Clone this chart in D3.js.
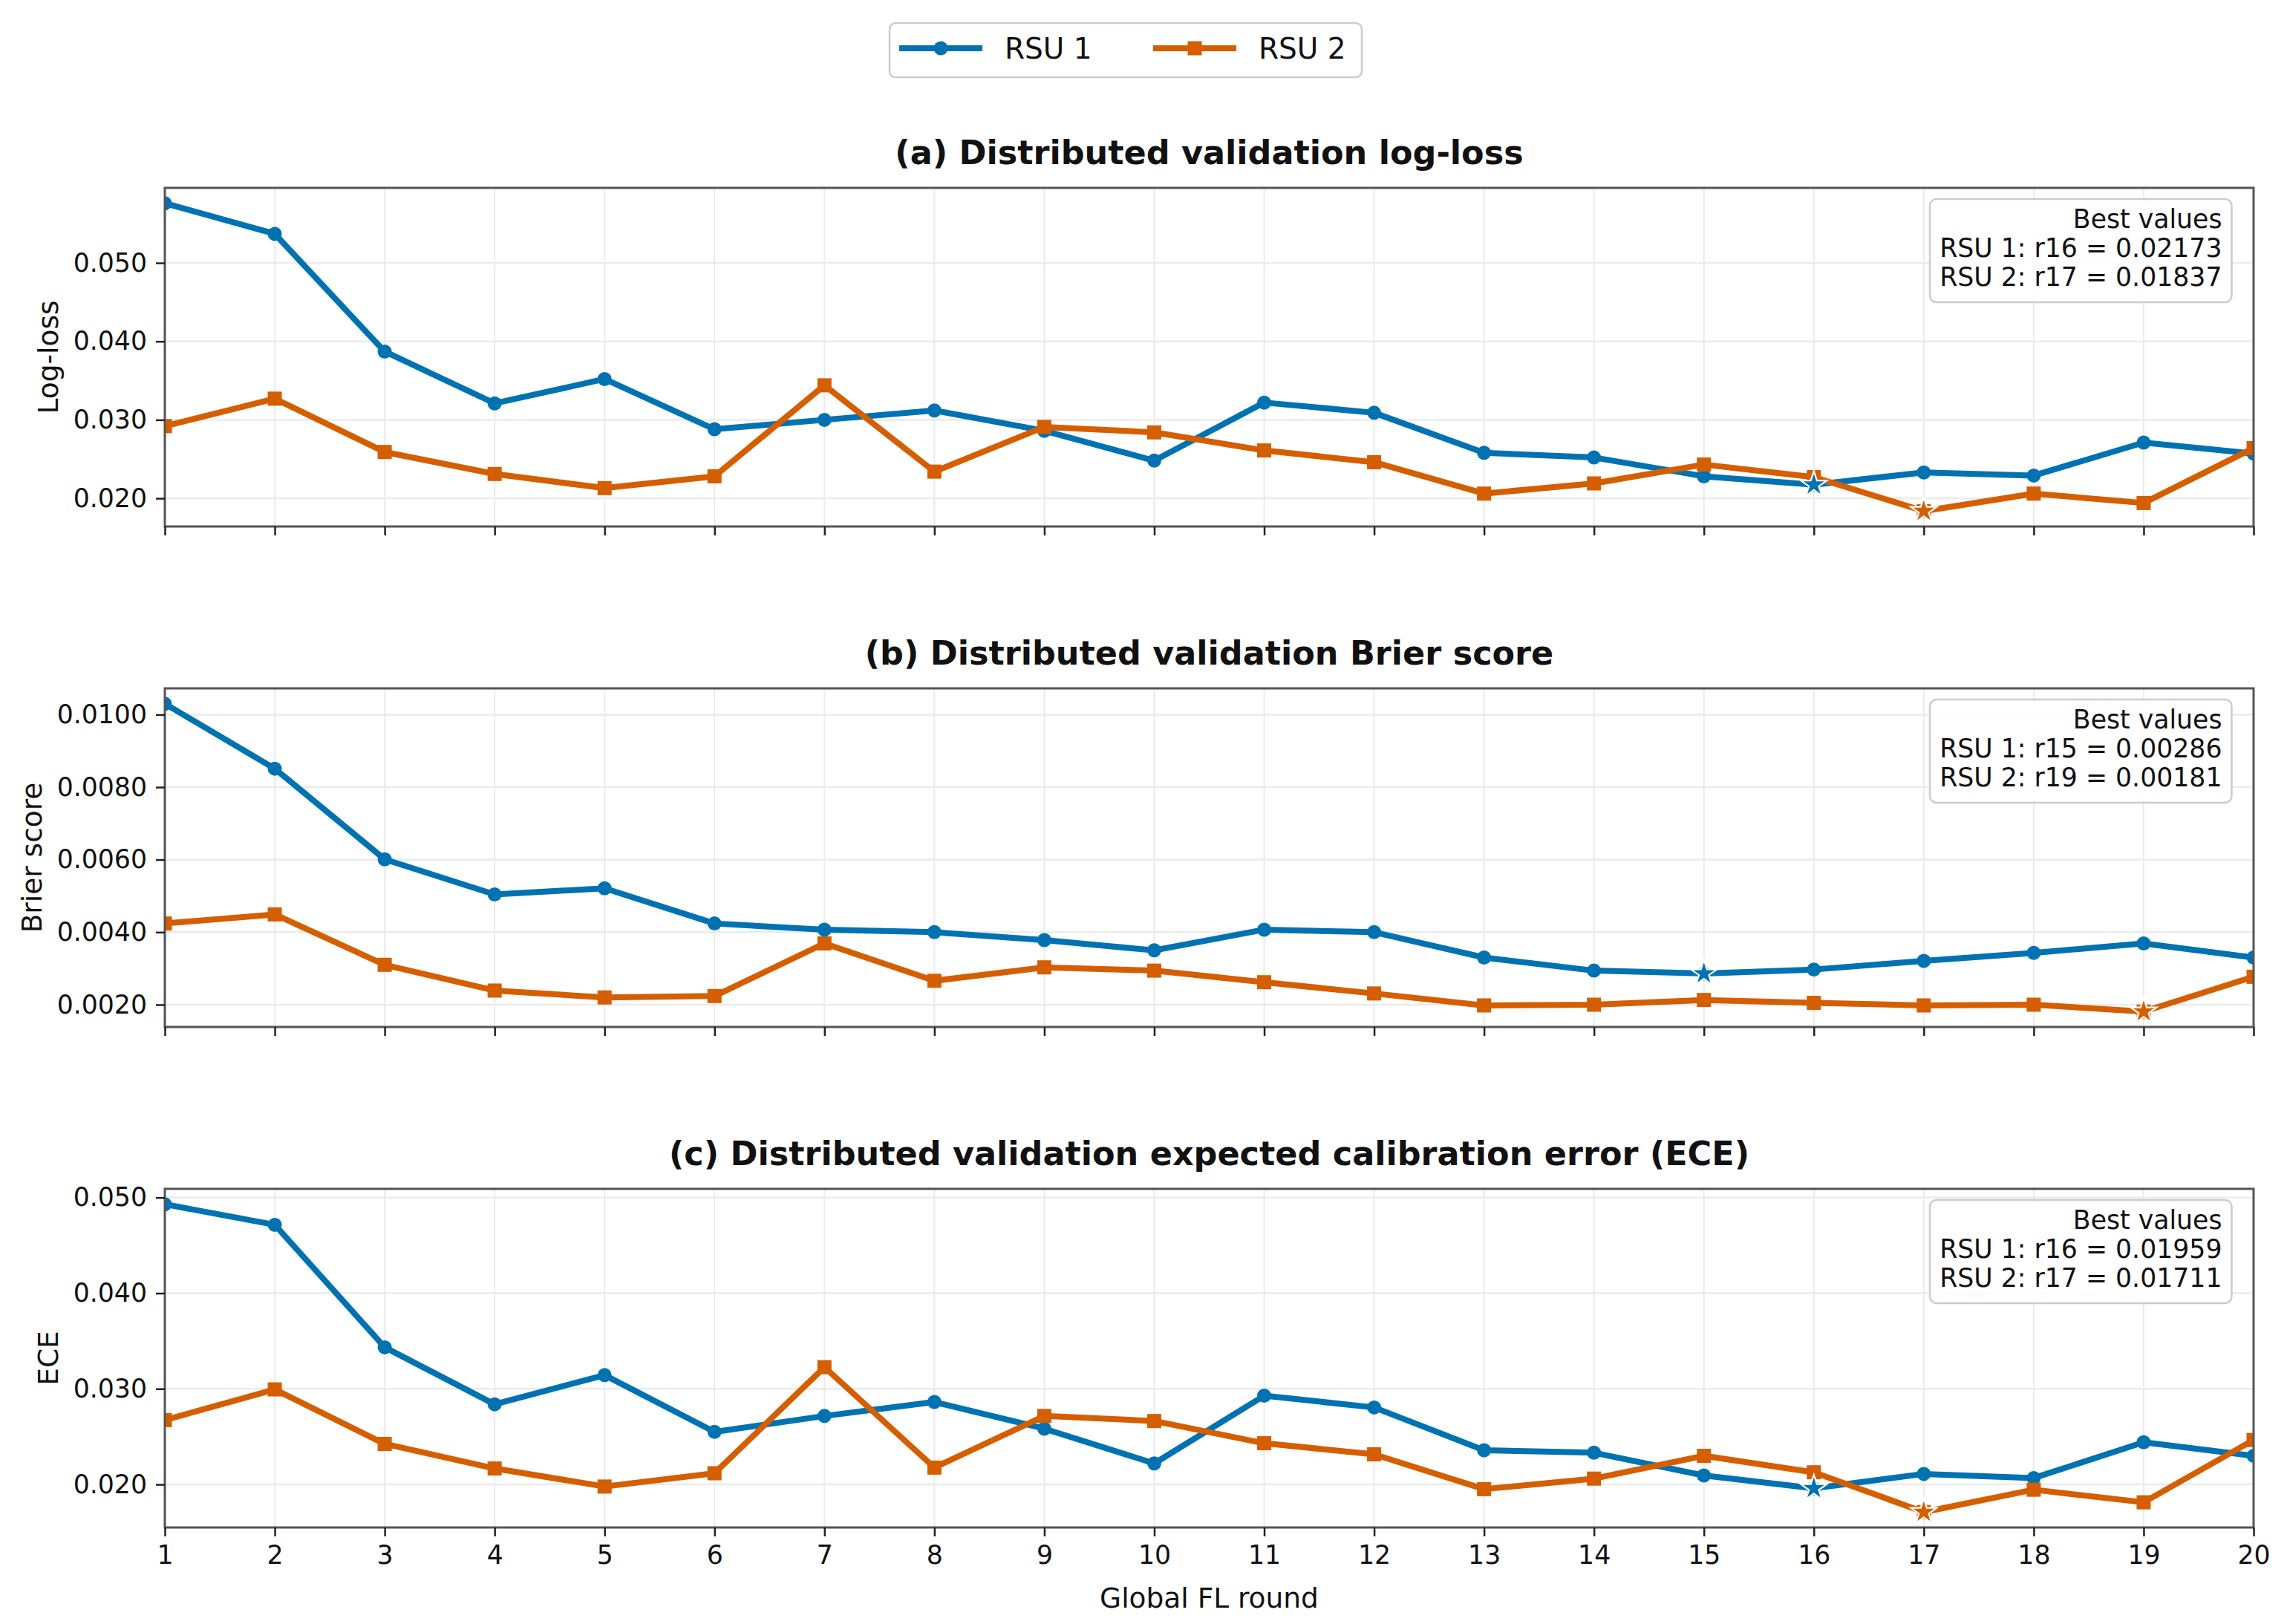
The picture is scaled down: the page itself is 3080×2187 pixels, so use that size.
<!DOCTYPE html>
<html>
<head>
<meta charset="utf-8">
<script src="https://cdn.jsdelivr.net/npm/d3@7"></script>
<style>
    html, body { margin: 0; padding: 0; background: #fff; }
    svg { display: block; font-family: "DejaVu Sans", sans-serif; }
</style>
</head>
<body>
<svg id="chart"></svg>
<script>
// Distributed validation metrics per global FL round, two RSUs
const rounds = [1, 2, 3, 4, 5, 6, 7, 8, 9, 10, 11, 12, 13, 14, 15, 16, 17, 18, 19, 20];
const seriesNames = ['RSU 1', 'RSU 2'];

const logLossRsu1 = [0.0576, 0.0537, 0.0387, 0.0321, 0.0352, 0.0288, 0.0300, 0.0312, 0.0286, 0.0248,
                     0.0322, 0.0309, 0.0258, 0.0252, 0.0228, 0.02173, 0.0233, 0.0229, 0.0271, 0.0257];
const logLossRsu2 = [0.0292, 0.0327, 0.0259, 0.0231, 0.0213, 0.0228, 0.0344, 0.0234, 0.0291, 0.0284,
                     0.0261, 0.0246, 0.0206, 0.0219, 0.0243, 0.0227, 0.01837, 0.0206, 0.0194, 0.0264];

const brierRsu1 = [0.0103, 0.00851, 0.00601, 0.00504, 0.00521, 0.00424, 0.00407, 0.00400, 0.00378, 0.00350,
                   0.00407, 0.00400, 0.00330, 0.00294, 0.00286, 0.00297, 0.00321, 0.00343, 0.00369, 0.00330];
const brierRsu2 = [0.00424, 0.00449, 0.00310, 0.00239, 0.00220, 0.00224, 0.00369, 0.00266, 0.00303, 0.00294,
                   0.00262, 0.00231, 0.00198, 0.00200, 0.00213, 0.00205, 0.00198, 0.00200, 0.00181, 0.00277];

const eceRsu1 = [0.0493, 0.04715, 0.03434, 0.02838, 0.03143, 0.0255, 0.02716, 0.02862, 0.02583, 0.0222,
                 0.02928, 0.02805, 0.02358, 0.02332, 0.02093, 0.01959, 0.0211, 0.02067, 0.02441, 0.02299];
const eceRsu2 = [0.02673, 0.02994, 0.02424, 0.02167, 0.01978, 0.02117, 0.03226, 0.02176, 0.02716, 0.02663,
                 0.02431, 0.02315, 0.01951, 0.02061, 0.02299, 0.02127, 0.01711, 0.01945, 0.01813, 0.02465];

const titles = [
    '(a) Distributed validation log-loss',
    '(b) Distributed validation Brier score',
    '(c) Distributed validation expected calibration error (ECE)'
];
const yLabels = ['Log-loss', 'Brier score', 'ECE'];
const yTicksLogLoss = [0.020, 0.030, 0.040, 0.050];
const yTicksBrier = [0.0020, 0.0040, 0.0060, 0.0080, 0.0100];
const yTicksEce = [0.020, 0.030, 0.040, 0.050];
const xLabel = 'Global FL round';

(function() {
    const W = 3080, H = 2187;
    const colors = ['#0072B2', '#D55E00'];
    const left = 222, right = 3035, panelH = 456;
    const tops = [253, 927, 1601];
    const tickFont = 34.7, labelFont = 37.5, titleFont = 44.5;

    const svg = d3.select('#chart').attr('width', W).attr('height', H);
    svg.append('rect').attr('width', W).attr('height', H).attr('fill', '#fff');

    const x = d3.scaleLinear().domain([1, 20]).range([left, right]);

    const panels = [
        { s: [logLossRsu1, logLossRsu2], ticks: yTicksLogLoss, fmt: d3.format('.3f') },
        { s: [brierRsu1, brierRsu2], ticks: yTicksBrier, fmt: d3.format('.4f') },
        { s: [eceRsu1, eceRsu2], ticks: yTicksEce, fmt: d3.format('.3f') }
    ];

    panels.forEach((p, i) => {
        const top = tops[i], bottom = top + panelH;
        const all = p.s[0].concat(p.s[1]);
        const lo = d3.min(all), hi = d3.max(all), pad = (hi - lo) * 0.05;
        const y = d3.scaleLinear().domain([lo - pad, hi + pad]).range([bottom, top]);
        const g = svg.append('g');

        const clipId = 'clip' + i;
        svg.append('clipPath').attr('id', clipId).append('rect')
            .attr('x', left).attr('y', top).attr('width', right - left).attr('height', panelH);

        // grid
        g.append('g').selectAll('line').data(rounds).enter().append('line')
            .attr('x1', d => x(d)).attr('x2', d => x(d)).attr('y1', top).attr('y2', bottom)
            .attr('stroke', '#ebebeb').attr('stroke-width', 2);
        g.append('g').selectAll('line').data(p.ticks).enter().append('line')
            .attr('x1', left).attr('x2', right).attr('y1', d => y(d)).attr('y2', d => y(d))
            .attr('stroke', '#ebebeb').attr('stroke-width', 2.5);

        // series
        const plot = g.append('g').attr('clip-path', 'url(#' + clipId + ')');
        const line = d3.line().x((d, j) => x(rounds[j])).y(d => y(d));
        p.s.forEach((vals, k) => {
            plot.append('path').datum(vals)
                .attr('d', line).attr('fill', 'none')
                .attr('stroke', colors[k]).attr('stroke-width', 8)
                .attr('stroke-linejoin', 'round').attr('stroke-linecap', 'butt');
            if (k === 0) {
                plot.append('g').selectAll('circle').data(vals).enter().append('circle')
                    .attr('cx', (d, j) => x(rounds[j])).attr('cy', d => y(d))
                    .attr('r', 9.5).attr('fill', colors[k]);
            } else {
                plot.append('g').selectAll('rect').data(vals).enter().append('rect')
                    .attr('x', (d, j) => x(rounds[j]) - 9.5).attr('y', d => y(d) - 9.5)
                    .attr('width', 19).attr('height', 19).attr('fill', colors[k]);
            }
        });

        // best-value stars
        const star = d3.symbol().type(d3.symbolStar).size(380);
        p.s.forEach((vals, k) => {
            const j = d3.minIndex(vals);
            plot.append('path').attr('d', star())
                .attr('transform', 'translate(' + x(rounds[j]) + ',' + y(vals[j]) + ')')
                .attr('fill', colors[k]).attr('stroke', '#fff').attr('stroke-width', 2.2);
        });

        // spines
        g.append('rect').attr('x', left).attr('y', top).attr('width', right - left).attr('height', panelH)
            .attr('fill', 'none').attr('stroke', '#555').attr('stroke-width', 3);

        // axes
        const yAxis = g.append('g').attr('transform', 'translate(' + left + ',0)')
            .call(d3.axisLeft(y).tickValues(p.ticks).tickFormat(p.fmt).tickSize(12).tickPadding(12));
        const xAxis = g.append('g').attr('transform', 'translate(0,' + bottom + ')')
            .call(d3.axisBottom(x).tickValues(rounds)
                .tickFormat(i === 2 ? d3.format('d') : () => '').tickSize(12).tickPadding(12));
        [yAxis, xAxis].forEach(a => {
            a.select('.domain').remove();
            a.selectAll('.tick line').attr('stroke', '#222').attr('stroke-width', 2.5);
            a.selectAll('.tick text').attr('fill', '#111').style('font-size', tickFont + 'px')
                .style('font-family', '"DejaVu Sans", sans-serif');
        });

        // y label
        const bb = yAxis.node().getBBox();
        const lx = left + bb.x - 21;
        g.append('text')
            .attr('transform', 'translate(' + lx + ',' + (top + panelH / 2) + ') rotate(-90)')
            .attr('text-anchor', 'middle').attr('fill', '#111')
            .style('font-size', labelFont + 'px').text(yLabels[i]);

        // title
        g.append('text').attr('x', (left + right) / 2).attr('y', top - 32)
            .attr('text-anchor', 'middle').attr('fill', '#111')
            .style('font-size', titleFont + 'px').style('font-weight', 'bold').text(titles[i]);

        // best values box
        const bx = 2599, bw = 406.5, by = top + 15, bh = 139;
        g.append('rect').attr('x', bx).attr('y', by).attr('width', bw).attr('height', bh)
            .attr('rx', 9).attr('fill', '#fff').attr('fill-opacity', 0.85)
            .attr('stroke', '#cccccc').attr('stroke-width', 2.5);
        const lines = ['Best values'].concat(p.s.map((vals, k) => {
            const j = d3.minIndex(vals);
            return seriesNames[k] + ': r' + rounds[j] + ' = ' + vals[j].toFixed(5);
        }));
        g.append('g').selectAll('text').data(lines).enter().append('text')
            .attr('x', bx + bw - 13).attr('y', (d, j) => by + 38.6 + j * 39)
            .attr('text-anchor', 'end').attr('fill', '#111')
            .style('font-size', tickFont + 'px').text(d => d);
    });

    // x label
    svg.append('text').attr('x', (left + right) / 2).attr('y', 2165)
        .attr('text-anchor', 'middle').attr('fill', '#111')
        .style('font-size', labelFont + 'px').text(xLabel);

    // legend
    const leg = svg.append('g');
    leg.append('rect').attr('x', 1198).attr('y', 31).attr('width', 636).attr('height', 73)
        .attr('rx', 8).attr('fill', '#fff').attr('stroke', '#cccccc').attr('stroke-width', 2.5);
    const items = [{ x0: 1211, tx: 1353 }, { x0: 1553, tx: 1695 }];
    items.forEach((it, k) => {
        leg.append('line').attr('x1', it.x0).attr('x2', it.x0 + 112).attr('y1', 65).attr('y2', 65)
            .attr('stroke', colors[k]).attr('stroke-width', 8);
        if (k === 0) {
            leg.append('circle').attr('cx', it.x0 + 56).attr('cy', 65).attr('r', 9.5).attr('fill', colors[k]);
        } else {
            leg.append('rect').attr('x', it.x0 + 56 - 9.5).attr('y', 65 - 9.5)
                .attr('width', 19).attr('height', 19).attr('fill', colors[k]);
        }
        leg.append('text').attr('x', it.tx).attr('y', 79).attr('fill', '#111')
            .style('font-size', '39px').text(seriesNames[k]);
    });
})();
</script>
</body>
</html>
